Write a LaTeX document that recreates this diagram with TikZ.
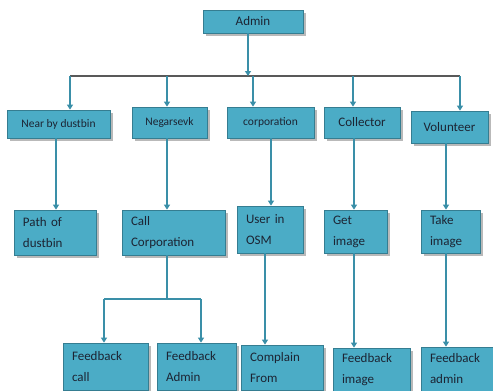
\documentclass[tikz,border=0pt]{standalone}
\usepackage{fontspec}
\setmainfont{Carlito}
\usetikzlibrary{arrows.meta,shadows}
\definecolor{boxfill}{HTML}{4BACC6}
\definecolor{boxline}{HTML}{357D91}
\definecolor{linkcol}{HTML}{3A8FA8}
\definecolor{inkcol}{HTML}{1C2433}
\begin{document}
\begin{tikzpicture}[x=1pt, y=-1pt,
  every node/.style={font=\fontsize{13}{21}\selectfont, text=inkcol},
  box/.style={draw=boxline, line width=0.7pt, fill=boxfill, align=center, inner xsep=9pt, inner ysep=2pt,
    drop shadow={shadow xshift=2.5pt, shadow yshift=-2.5pt, fill=gray!55, opacity=1}},
  small/.style={font=\fontsize{11.5}{14}\selectfont},
  tbox/.style={box, align=left, text width=#1},
  link/.style={draw=linkcol, line width=1.3pt, -{Triangle[width=6pt,length=5pt]}},
  plain/.style={draw=linkcol, line width=1.3pt}
]
  \useasboundingbox (0,0) rectangle (493,391);

  \node[box, minimum width=100pt, minimum height=23pt] (admin) at (253,21.5) {Admin};

  \node[box, small, minimum width=103pt, minimum height=28pt] (near) at (58.5,124) {Near by dustbin};
  \node[box, small, minimum width=75pt, minimum height=31pt] (nagar) at (169.5,122.5) {Negarsevk};
  \node[box, small, minimum width=87pt, minimum height=31pt] (corp) at (270.5,122.5) {corporation};
  \node[box, minimum width=76pt, minimum height=31pt] (collect) at (362,122.5) {Collector};
  \node[box, minimum width=77pt, minimum height=32pt] (volunteer) at (449.5,127) {Volunteer};

  \node[tbox=64pt, minimum height=45pt] (path) at (55,232.5) {Path of\\dustbin};
  \node[tbox=85pt, minimum height=45pt] (call) at (173.5,232.5) {Call\\Corporation};
  \node[tbox=48pt, minimum height=47pt] (user) at (270,229.5) {User in\\OSM};
  \node[tbox=45pt, minimum height=43pt] (getimg) at (355.5,231.5) {Get\\image};
  \node[tbox=41pt, minimum height=43pt] (takeimg) at (450.5,231.5) {Take\\image};

  \node[tbox=67pt, minimum height=47pt] (fbcall) at (105.5,366.5) {Feedback\\call};
  \node[tbox=61pt, minimum height=47pt] (fbadmin) at (196.5,366.5) {Feedback\\Admin};
  \node[tbox=64pt, minimum height=45pt] (complain) at (282,367.5) {Complain\\From};
  \node[tbox=59pt, minimum height=43pt] (fbimage) at (371.5,369.5) {Feedback\\image};
  \node[tbox=54pt, minimum height=44pt] (fbadm) at (457,369) {Feedback\\admin};

  % bus under admin
  \coordinate (top) at (248,76);
  \coordinate (bn) at (70,76);
  \coordinate (bg) at (167,76);
  \coordinate (bc) at (253,76);
  \coordinate (bl) at (353,76);
  \coordinate (bv) at (460,76);
  \draw[gray!70!black, line width=2pt] (bn) -- (bv);
  \draw[link] (admin.south -| top) -- (top);
  \draw[link] (bn) -- (bn |- near.north);
  \draw[link] (bg) -- (bg |- nagar.north);
  \draw[link] (bc) -- (bc |- corp.north);
  \draw[link] (bl) -- (bl |- collect.north);
  \draw[link] (bv) -- (bv |- volunteer.north);

  % second row to third row
  \draw[link] ([xshift=-2.5pt]near.south) -- ([xshift=1pt]path.north);
  \draw[link] ([xshift=-2.5pt]nagar.south) -- ([xshift=-2.5pt]nagar.south |- call.north);
  \draw[link] ([xshift=0.5pt]corp.south) -- ([xshift=0.5pt]corp.south |- user.north);
  \draw[link] ([xshift=-8pt]collect.south) -- ([xshift=-8pt]collect.south |- getimg.north);
  \draw[link] ([xshift=-3.5pt]volunteer.south) -- ([xshift=-3.5pt]volunteer.south |- takeimg.north);

  % third row to last row
  \coordinate (split) at (167,299);
  \coordinate (sl) at (104,299);
  \coordinate (sr) at (201,299);
  \draw[plain] (call.south -| split) -- (split);
  \draw[plain] (sl) -- (sr);
  \draw[link] (sl) -- (sl |- fbcall.north);
  \draw[link] (sr) -- (sr |- fbadmin.north);
  \draw[link] ([xshift=-5pt]user.south) -- ([xshift=-5pt]user.south |- complain.north);
  \draw[link] ([xshift=-1.5pt]getimg.south) -- ([xshift=-1.5pt]getimg.south |- fbimage.north);
  \draw[link] ([xshift=-4.5pt]takeimg.south) -- ([xshift=-4.5pt]takeimg.south |- fbadm.north);
\end{tikzpicture}
\end{document}
